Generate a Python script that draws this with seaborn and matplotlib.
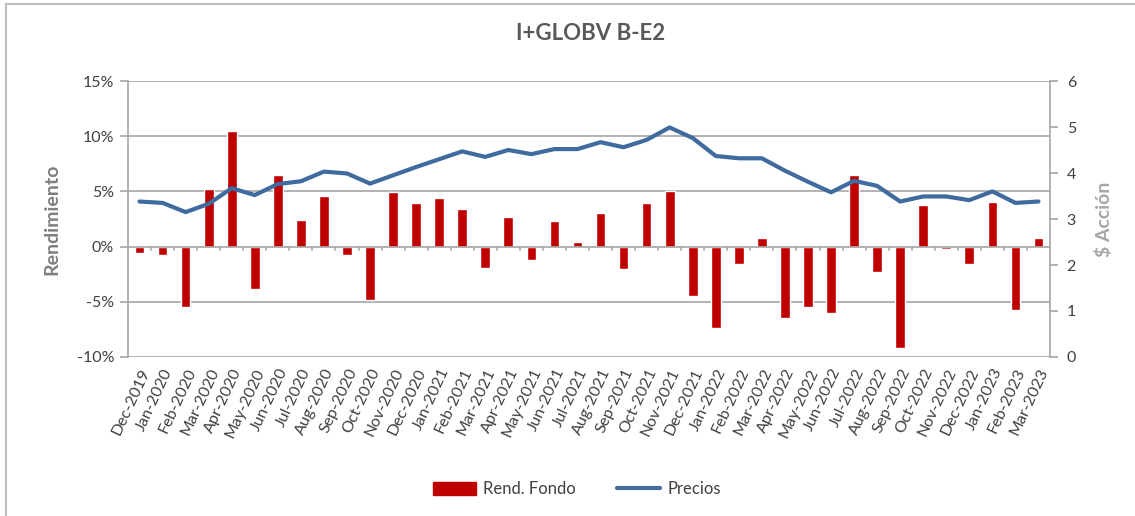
import numpy as np
import pandas as pd
import seaborn as sns
import matplotlib.pyplot as plt
from matplotlib.patches import Rectangle
from matplotlib.lines import Line2D

months = ['Dec-2019', 'Jan-2020', 'Feb-2020', 'Mar-2020', 'Apr-2020', 'May-2020',
          'Jun-2020', 'Jul-2020', 'Aug-2020', 'Sep-2020', 'Oct-2020', 'Nov-2020',
          'Dec-2020', 'Jan-2021', 'Feb-2021', 'Mar-2021', 'Apr-2021', 'May-2021',
          'Jun-2021', 'Jul-2021', 'Aug-2021', 'Sep-2021', 'Oct-2021', 'Nov-2021',
          'Dec-2021', 'Jan-2022', 'Feb-2022', 'Mar-2022', 'Apr-2022', 'May-2022',
          'Jun-2022', 'Jul-2022', 'Aug-2022', 'Sep-2022', 'Oct-2022', 'Nov-2022',
          'Dec-2022', 'Jan-2023', 'Feb-2023', 'Mar-2023']

# monthly fund return, in %
rend_fondo = [-0.6, -0.75, -5.5, 5.2, 10.5, -3.85, 6.45, 2.4, 4.6, -0.75, -4.8, 4.95,
              3.95, 4.4, 3.4, -1.9, 2.7, -1.2, 2.3, 0.45, 3.0, -2.0, 3.95, 5.05,
              -4.5, -7.4, -1.6, 0.75, -6.5, -5.5, -6.0, 6.45, -2.3, -9.2, 3.8, -0.25,
              -1.6, 4.07, -5.7, 0.75]

# price per share
precios = [3.38, 3.35, 3.15, 3.33, 3.67, 3.52, 3.76, 3.82, 4.03, 3.99, 3.77, 3.95,
           4.13, 4.30, 4.47, 4.35, 4.50, 4.41, 4.52, 4.52, 4.67, 4.56, 4.72, 4.99,
           4.76, 4.37, 4.32, 4.32, 4.05, 3.81, 3.58, 3.83, 3.72, 3.38, 3.49, 3.49,
           3.41, 3.60, 3.35, 3.38]

df = pd.DataFrame({'mes': months, 'rend': rend_fondo, 'precio': precios})
df['x'] = np.arange(len(df))

sns.set_style('white')
plt.rcParams['font.family'] = ['Lato', 'DejaVu Sans']

red = '#C00000'
blue = '#3F6B9F'
grid = '#A6A6A6'
txt = '#404040'

fig = plt.figure(figsize=(11.35, 5.16), dpi=100)
ax = fig.add_axes([128 / 1135, 1 - 357 / 516, 922 / 1135, 276 / 516])

sns.barplot(data=df, x='mes', y='rend', color=red, width=0.42, saturation=1,
            ax=ax, zorder=3)
ax.set_ylim(-10, 15)
ax.set_yticks([-10, -5, 0, 5, 10, 15])
ax.set_yticklabels([f'{v}%' for v in [-10, -5, 0, 5, 10, 15]])
ax.set_xlim(-0.5, len(df) - 0.5)
for v in [-10, -5, 5, 10, 15]:
    ax.axhline(v, color=grid, lw=1.2, zorder=1)
ax.axhline(0, color=grid, lw=1.2, zorder=4)
# small ticks on the zero line, between categories
for i in range(1, len(df)):
    ax.plot([i - 0.5, i - 0.5], [0, -0.35], color=grid, lw=1.2, zorder=4,
            clip_on=False)

for s in ['top', 'bottom', 'right']:
    ax.spines[s].set_visible(False)
ax.spines['left'].set_color(grid)
ax.spines['left'].set_linewidth(1.2)
ax.tick_params(axis='y', which='both', left=True, length=6, width=1.2,
               color=grid, labelsize=11.5, labelcolor=txt, pad=4)
ax.tick_params(axis='x', bottom=False, labelsize=11.5, labelcolor=txt, pad=3)
plt.setp(ax.get_xticklabels(), rotation=65, ha='right', rotation_mode='anchor')
ax.set_xlabel('')
ax.set_ylabel('Rendimiento', fontsize=14, fontweight='bold', color='#7F7F7F',
              labelpad=12)

ax2 = ax.twinx()
sns.lineplot(data=df, x='x', y='precio', color=blue, lw=3, ax=ax2, zorder=5)
ax2.set_ylim(0, 6)
ax2.set_yticks(range(0, 7))
ax2.set_xlim(-0.5, len(df) - 0.5)
for s in ['top', 'bottom', 'left']:
    ax2.spines[s].set_visible(False)
ax2.spines['right'].set_color(grid)
ax2.spines['right'].set_linewidth(1.2)
ax2.tick_params(axis='y', right=True, length=6, width=1.2, color=grid,
                labelsize=11.5, labelcolor=txt, pad=6)
ax2.set_ylabel('$ Acción', fontsize=14, fontweight='bold', color='#A6A6A6',
               labelpad=14)
ax2.yaxis.set_label_position('right')
ax2.set_xlabel('')

fig.suptitle('I+GLOBV B-E2', x=0.52, y=0.955, fontsize=16, fontweight='bold',
             color='#595959')

handles = [Rectangle((0, 0), 1, 1, color=red),
           Line2D([0], [0], color=blue, lw=3)]
fig.legend(handles, ['Rend. Fondo', 'Precios'], loc='center',
           bbox_to_anchor=(0.508, 0.052), ncol=2, frameon=False, fontsize=12,
           labelcolor=txt, handlelength=2.6, handleheight=0.9, handletextpad=0.4,
           columnspacing=2.5)

# outer chart border
fig.patches.append(Rectangle((6 / 1135, -0.1), 1.2, 1 - 4 / 516 + 0.1,
                             transform=fig.transFigure, fill=False,
                             edgecolor='#BFBFBF', lw=1.5))

fig.savefig('out.png', dpi=100)
